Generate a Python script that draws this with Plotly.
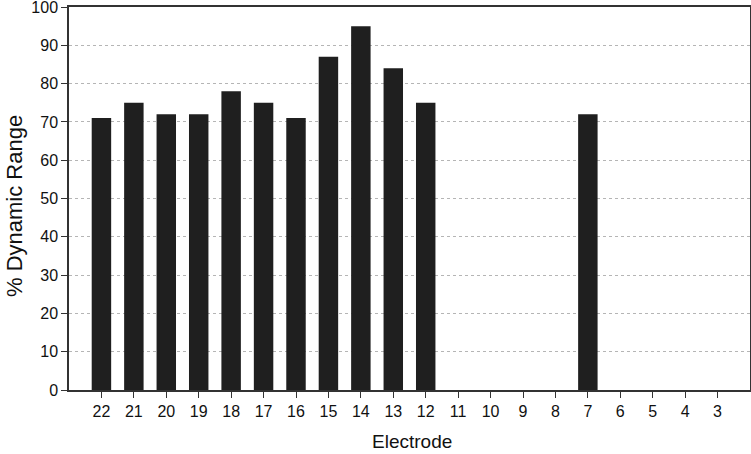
import plotly.graph_objects as go

electrodes = ["22", "21", "20", "19", "18", "17", "16", "15", "14", "13", "12",
              "11", "10", "9", "8", "7", "6", "5", "4", "3"]
dynamic_range = [71, 75, 72, 72, 78, 75, 71, 87, 95, 84, 75,
                 0, 0, 0, 0, 72, 0, 0, 0, 0]
x_title = "Electrode"
y_title = "% Dynamic Range"

fig = go.Figure(go.Bar(
    x=electrodes, y=dynamic_range,
    marker=dict(color="#1f1f1f", line=dict(width=0)),
    width=0.6,
))

font = dict(family="Liberation Sans, Arial, sans-serif", color="#111")
fig.update_layout(
    width=751, height=454,
    margin=dict(l=69, r=1, t=7, b=64, autoexpand=False),
    paper_bgcolor="white", plot_bgcolor="white",
    showlegend=False,
    font=font,
    annotations=[
        dict(text=y_title, xref="paper", yref="paper", x=-0.081, y=0.48,
             xanchor="center", yanchor="middle", textangle=-90, showarrow=False,
             font=dict(size=22, **font)),
        dict(text=x_title, xref="paper", yref="paper", x=0.503, y=-0.134,
             xanchor="center", yanchor="middle", showarrow=False,
             font=dict(size=19, **font)),
    ],
)
fig.update_xaxes(
    type="category", range=[-1, 20], automargin=False,
    showline=True, linecolor="#333", linewidth=1.5, mirror=True,
    ticks="outside", ticklen=6, tickcolor="#333",
    tickfont=dict(size=16, **font),
    showgrid=False,
)
fig.update_yaxes(
    range=[0, 100], dtick=10, automargin=False,
    showline=True, linecolor="#333", linewidth=1.5, mirror=True,
    ticks="outside", ticklen=6, tickcolor="#333",
    tickfont=dict(size=16, **font),
    ticklabeloverflow="allow",
    showgrid=True, gridcolor="#b5b5b5", griddash="dot", gridwidth=1,
    zeroline=False,
)

fig.write_html("out.html", config={"displayModeBar": False})

# remove default page margin so the figure sits at the window's top-left corner
with open("out.html", "r", encoding="utf-8") as f:
    html = f.read()
html = html.replace("<head>", "<head><style>html,body{margin:0;padding:0;overflow:hidden;}</style>", 1)
with open("out.html", "w", encoding="utf-8") as f:
    f.write(html)
